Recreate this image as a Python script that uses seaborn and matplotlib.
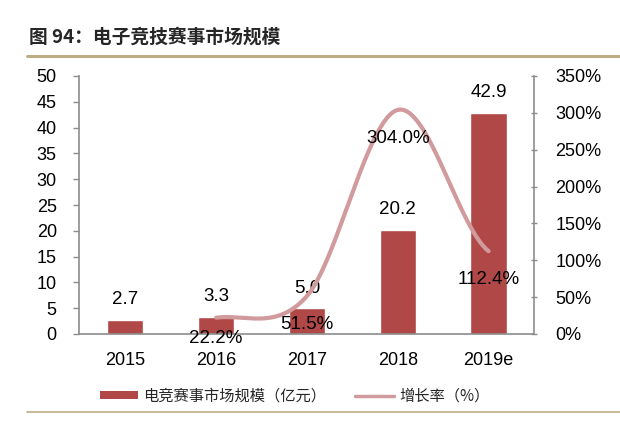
import numpy as np
import pandas as pd
import matplotlib
matplotlib.use("Agg")
import matplotlib.pyplot as plt
import seaborn as sns
from matplotlib.lines import Line2D
from matplotlib.patches import Patch

years = ["2015", "2016", "2017", "2018", "2019e"]
market_size = [2.7, 3.3, 5.0, 20.2, 42.9]
growth_years = ["2016", "2017", "2018", "2019e"]
growth_rate = [22.2, 51.5, 304.0, 112.4]
left_ticks = [0, 5, 10, 15, 20, 25, 30, 35, 40, 45, 50]
right_ticks = [0, 50, 100, 150, 200, 250, 300, 350]
title = "图 94：电子竞技赛事市场规模"
bar_label = "电竞赛事市场规模（亿元）"
line_label = "增长率（%）"

sns.set_theme(style="white")
plt.rcParams["font.family"] = ["Liberation Sans", "Noto Sans CJK SC", "DejaVu Sans"]

bar_color = "#AF4846"
line_color = "#D19A9C"
axis_color = "#8C8C8C"
rule_color = "#BCAE84"

fig = plt.figure(figsize=(6.2, 4.22), dpi=100)
ax = fig.add_axes([79 / 620, 1 - 334 / 422, (534 - 79) / 620, (334 - 76) / 422])

df = pd.DataFrame({"year": years, "size": market_size})
sns.barplot(data=df, x="year", y="size", color=bar_color, width=0.4,
            saturation=1, ax=ax, order=years)
ax.set_xlim(-0.51, 4.5)
ax.set_ylim(0, 50)
ax.set_yticks(left_ticks)
ax.set_xlabel("")
ax.set_ylabel("")
ax.tick_params(axis="y", which="both", direction="out", length=4, width=1,
               color=axis_color, labelsize=13, pad=12, left=True, labelcolor="black")
ax.tick_params(axis="x", length=0, labelsize=13, pad=13, labelcolor="black")
for s in ["top", "right"]:
    ax.spines[s].set_visible(False)
for s in ["left", "bottom"]:
    ax.spines[s].set_color(axis_color)
    ax.spines[s].set_linewidth(1.2)

for i, v in enumerate(market_size):
    ax.annotate(f"{v:.1f}", (i, v), xytext=(0, 14.5), textcoords="offset points",
                ha="center", va="center", fontsize=13.5, color="black")

ax2 = ax.twinx()
ax2.set_ylim(0, 350)
ax2.set_yticks(right_ticks)
ax2.set_yticklabels([f"{t}%" for t in right_ticks])
ax2.tick_params(axis="y", direction="inout", length=5, width=1, color=axis_color,
                labelsize=13, pad=13, right=True, labelcolor="black")
for s in ["top", "left", "bottom"]:
    ax2.spines[s].set_visible(False)
ax2.spines["right"].set_color(axis_color)
ax2.spines["right"].set_linewidth(1.2)

# smoothed line rendering (Catmull-Rom, like a spreadsheet "smoothed line")
gx = np.array([years.index(y) for y in growth_years], dtype=float)
gy = np.array(growth_rate, dtype=float)
px = np.concatenate([[2 * gx[0] - gx[1]], gx, [2 * gx[-1] - gx[-2]]])
py = np.concatenate([[gy[0]], gy, [gy[-1]]])
sx, sy = [], []
t = np.linspace(0, 1, 60)
for k in range(1, len(px) - 2):
    p0, p1, p2, p3 = [np.array([px[j], py[j]]) for j in range(k - 1, k + 3)]
    pts = 0.5 * ((2 * p1)[:, None] + (-p0 + p2)[:, None] * t
                 + (2 * p0 - 5 * p1 + 4 * p2 - p3)[:, None] * t ** 2
                 + (-p0 + 3 * p1 - 3 * p2 + p3)[:, None] * t ** 3)
    sx.extend(pts[0]); sy.extend(pts[1])
ax2.plot(sx, sy, color=line_color, lw=3.0, solid_capstyle="round")

for x, v in zip(gx, gy):
    # labels sit below the line; near the baseline they are pulled up a little
    dy = -15 if v < 30 else -20.5
    ax2.annotate(f"{v:.1f}%", (x, v), xytext=(0, dy), textcoords="offset points",
                 ha="center", va="center", fontsize=13.5, color="black")

# title and rules
fig.text(29 / 620, 1 - 37 / 422, title, fontsize=13.5, fontweight="heavy",
         family=["Noto Sans CJK SC", "DejaVu Sans"], va="center", ha="left")
fig.add_artist(Line2D([27 / 620, 1], [1 - 56 / 422] * 2, color=rule_color, lw=2.2))
fig.add_artist(Line2D([27 / 620, 1], [1 - 412 / 422] * 2, color=rule_color, lw=1.2))

handles = [Patch(facecolor=bar_color, edgecolor="none"),
           Line2D([], [], color=line_color, lw=2.5)]
leg = fig.legend(handles, [bar_label, line_label], loc="center",
                 bbox_to_anchor=(0.475, 1 - 396 / 422), ncol=2, frameon=False,
                 handlelength=2.5, handleheight=0.45, columnspacing=1.9,
                 handletextpad=0.35, prop={"family": ["Noto Sans CJK SC"], "size": 11})

fig.savefig("out.png", dpi=100)
